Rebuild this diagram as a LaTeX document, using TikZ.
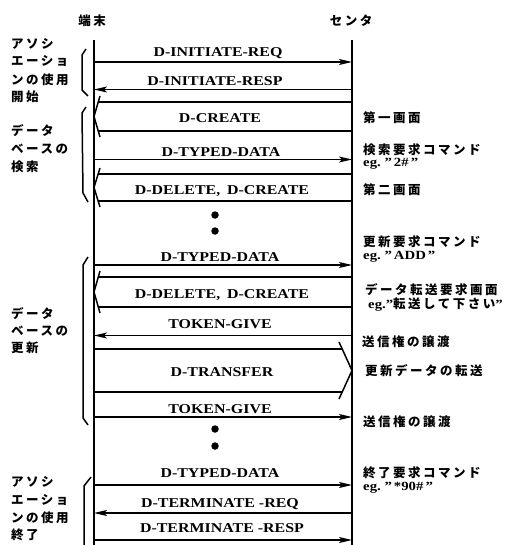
\documentclass[tikz,border=0pt]{standalone}
\usepackage{fontspec}
\usetikzlibrary{arrows.meta}
\newfontfamily\cjk[LetterSpace=20]{Noto Sans CJK JP}
\newfontfamily\lab[FakeStretch=1.18]{Liberation Serif}
\tikzset{
  life/.style={line width=1.5pt},
  msg/.style={line width=1.5pt},
  arr/.style={msg,-{Stealth[length=13pt,width=6pt,inset=3pt]}},
  lbl/.style={font=\lab\bfseries\fontsize{13.5}{15}\selectfont, inner sep=0pt, anchor=base},
  jp/.style={font=\cjk\bfseries\fontsize{12.5}{14}\selectfont, inner sep=0pt, anchor=west},
  eg/.style={font=\lab\bfseries\fontsize{12.5}{14}\selectfont, inner sep=0pt, anchor=west},
  bracket/.style={line width=1.5pt, line join=round},
  dotmark/.style={circle, fill, inner sep=0pt, minimum size=7.5pt}
}
\begin{document}
\begin{tikzpicture}[x=1pt,y=-1pt]
\useasboundingbox (0,0) rectangle (517,545);
% headers
\node[jp, anchor=center] (hL) at (92,21) {端末};
\node[jp, anchor=center] (hR) at (351,21) {センタ};
% lifelines
\coordinate (Ltop) at (94,40); \coordinate (Lbot) at (94,545);
\coordinate (Rtop) at (352,40); \coordinate (Rbot) at (352,545);
\draw[life] (Ltop) -- (Lbot);
\draw[life] (Rtop) -- (Rbot);
% 1 D-INITIATE-REQ
\coordinate (m1a) at (94,62); \coordinate (m1b) at (352,62);
\draw[arr] (m1a) -- (m1b);
\node[lbl] (t1) at (218,57) {D-INITIATE-REQ};
% 2 D-INITIATE-RESP
\coordinate (m2a) at (352,89.5); \coordinate (m2b) at (94,89.5);
\draw[arr] (m2a) -- (m2b);
\node[lbl] (t2) at (215,86) {D-INITIATE-RESP};
% 3 D-CREATE (wide, left)
\coordinate (m3t) at (352,102); \coordinate (m3tl) at (98.2,102);
\coordinate (m3b) at (352,131); \coordinate (m3bl) at (98.2,131);
\coordinate (m3u) at (100,96); \coordinate (m3v) at (94,116.5); \coordinate (m3l) at (100,137);
\draw[msg] (m3t) -- (m3tl);
\draw[msg] (m3b) -- (m3bl);
\draw[msg] (m3u) -- (m3v) -- (m3l);
\node[lbl] (t3) at (220,123) {D-CREATE};
% 4 D-TYPED-DATA
\coordinate (m4a) at (94,159.5); \coordinate (m4b) at (352,159.5);
\draw[arr] (m4a) -- (m4b);
\node[lbl] (t4) at (221,157) {D-TYPED-DATA};
% 5 D-DELETE, D-CREATE (wide, left)
\coordinate (m5t) at (352,174); \coordinate (m5tl) at (98.2,174);
\coordinate (m5b) at (352,201); \coordinate (m5bl) at (98.2,201);
\coordinate (m5u) at (100,168); \coordinate (m5v) at (94,187.5); \coordinate (m5l) at (100,207);
\draw[msg] (m5t) -- (m5tl);
\draw[msg] (m5b) -- (m5bl);
\draw[msg] (m5u) -- (m5v) -- (m5l);
\node[lbl] (t5) at (222,195) {D-DELETE,\enspace D-CREATE};
% dots
\node[dotmark] (d1) at (215,215) {};
\node[dotmark] (d2) at (215,231) {};
% 6 D-TYPED-DATA
\coordinate (m6a) at (94,265); \coordinate (m6b) at (352,265);
\draw[arr] (m6a) -- (m6b);
\node[lbl] (t6) at (220,261) {D-TYPED-DATA};
% 7 D-DELETE, D-CREATE (wide, left)
\coordinate (m7t) at (352,277); \coordinate (m7tl) at (98.3,277);
\coordinate (m7b) at (352,307); \coordinate (m7bl) at (98.3,307);
\coordinate (m7u) at (100,271); \coordinate (m7v) at (94,292); \coordinate (m7l) at (100,313);
\draw[msg] (m7t) -- (m7tl);
\draw[msg] (m7b) -- (m7bl);
\draw[msg] (m7u) -- (m7v) -- (m7l);
\node[lbl] (t7) at (222,298) {D-DELETE,\enspace D-CREATE};
% 8 TOKEN-GIVE (left)
\coordinate (m8a) at (352,335.5); \coordinate (m8b) at (94,335.5);
\draw[arr] (m8a) -- (m8b);
\node[lbl] (t8) at (220,328) {TOKEN-GIVE};
% 9 D-TRANSFER (wide, right)
\coordinate (m9t) at (94,349); \coordinate (m9tr) at (342.2,349);
\coordinate (m9b) at (94,392); \coordinate (m9br) at (342.2,392);
\coordinate (m9u) at (339,342); \coordinate (m9v) at (352,370.5); \coordinate (m9l) at (339,399);
\draw[msg] (m9t) -- (m9tr);
\draw[msg] (m9b) -- (m9br);
\draw[msg] (m9u) -- (m9v) -- (m9l);
\node[lbl] (t9) at (222,376) {D-TRANSFER};
% 10 TOKEN-GIVE (right)
\coordinate (m10a) at (94,417); \coordinate (m10b) at (352,417);
\draw[arr] (m10a) -- (m10b);
\node[lbl] (t10) at (220,413) {TOKEN-GIVE};
% dots
\node[dotmark] (d3) at (215,429) {};
\node[dotmark] (d4) at (215,446) {};
% 11 D-TYPED-DATA
\coordinate (m11a) at (94,485); \coordinate (m11b) at (352,485);
\draw[arr] (m11a) -- (m11b);
\node[lbl] (t11) at (220,477) {D-TYPED-DATA};
% 12 D-TERMINATE -REQ (left)
\coordinate (m12a) at (352,513); \coordinate (m12b) at (94,513);
\draw[arr] (m12a) -- (m12b);
\node[lbl] (t12) at (220,507) {D-TERMINATE -REQ};
% 13 D-TERMINATE -RESP (right)
\coordinate (m13a) at (94,540); \coordinate (m13b) at (352,540);
\draw[arr] (m13a) -- (m13b);
\node[lbl] (t13) at (222,532) {D-TERMINATE -RESP};
% brackets
\draw[bracket] (86,49) -- (82,55) -- (82,90) -- (88,96);
\draw[bracket] (86,107) -- (82,113) -- (83,193) -- (88,202);
\draw[bracket] (88,257) -- (83,265) -- (83,418) -- (88,425);
\draw[bracket] (91,477) -- (84,486) -- (84,546);
% left phase labels
\node[jp] (g1a) at (11,44) {アソシ};
\node[jp] (g1b) at (11,61.5) {エーショ};
\node[jp] (g1c) at (11,79.5) {ンの使用};
\node[jp] (g1d) at (11,97) {開始};
\node[jp] (g2a) at (11,131) {データ};
\node[jp] (g2b) at (11,149) {ベースの};
\node[jp] (g2c) at (11,167) {検索};
\node[jp] (g3a) at (11,314) {データ};
\node[jp] (g3b) at (11,331) {ベースの};
\node[jp] (g3c) at (11,348) {更新};
\node[jp] (g4a) at (11,482) {アソシ};
\node[jp] (g4b) at (11,500) {エーショ};
\node[jp] (g4c) at (11,517.5) {ンの使用};
\node[jp] (g4d) at (11,535) {終了};
% right annotations
\node[jp] (n1) at (363,118) {第一画面};
\node[jp] (n2) at (363,150) {検索要求コマンド};
\node[eg] (n3) at (363,163.5) {eg.\ ”\,2\#\,”};
\node[jp] (n4) at (363,190) {第二画面};
\node[jp] (n5) at (363,242) {更新要求コマンド};
\node[eg] (n6) at (363,257) {eg.\ ”\,ADD\,”};
\node[jp] (n7) at (365,290) {データ転送要求画面};
\node[eg] (n8) at (368,305) {eg.”{\cjk\bfseries\fontsize{12.5}{14}\selectfont 転送して下さい}”};
\node[jp] (n9) at (362,342) {送信権の譲渡};
\node[jp] (n10) at (365,371) {更新データの転送};
\node[jp] (n11) at (363,422) {送信権の譲渡};
\node[jp] (n12) at (363,473) {終了要求コマンド};
\node[eg] (n13) at (363,488) {eg.\ ”\,*90\#\,”};
\end{tikzpicture}
\end{document}
